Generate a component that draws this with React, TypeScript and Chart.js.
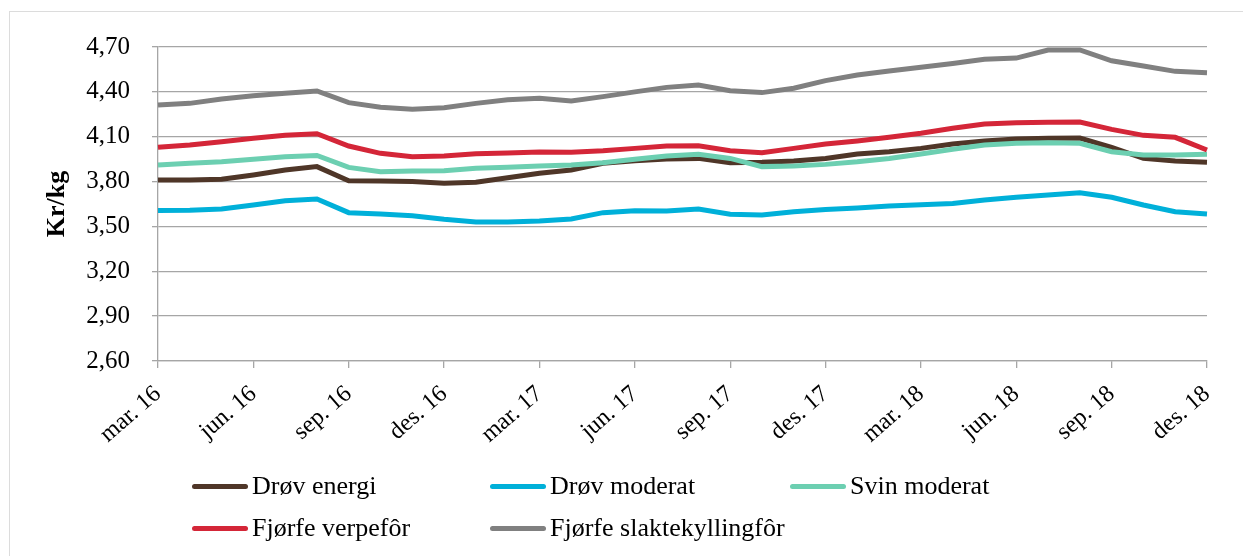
import React, { useEffect, useRef } from "react";
import { Chart, registerables } from "chart.js";

Chart.register(...registerables);

const months: string[] = [
  "mar. 16", "apr. 16", "mai. 16", "jun. 16", "jul. 16", "aug. 16", "sep. 16", "okt. 16", "nov. 16", "des. 16",
  "jan. 17", "feb. 17", "mar. 17", "apr. 17", "mai. 17", "jun. 17", "jul. 17", "aug. 17", "sep. 17", "okt. 17", "nov. 17", "des. 17",
  "jan. 18", "feb. 18", "mar. 18", "apr. 18", "mai. 18", "jun. 18", "jul. 18", "aug. 18", "sep. 18", "okt. 18", "nov. 18", "des. 18",
];

const drovEnergi: number[] = [3.81, 3.81, 3.815, 3.844, 3.877, 3.9, 3.806, 3.804, 3.8, 3.788, 3.795, 3.825, 3.855, 3.877, 3.922, 3.94, 3.951, 3.955, 3.926, 3.929, 3.937, 3.955, 3.984, 4.0, 4.022, 4.051, 4.071, 4.084, 4.089, 4.091, 4.029, 3.955, 3.937, 3.929];
const drovModerat: number[] = [3.607, 3.609, 3.616, 3.643, 3.672, 3.683, 3.592, 3.583, 3.572, 3.548, 3.53, 3.53, 3.536, 3.55, 3.592, 3.605, 3.603, 3.616, 3.581, 3.576, 3.598, 3.614, 3.623, 3.636, 3.645, 3.654, 3.677, 3.695, 3.71, 3.725, 3.695, 3.643, 3.598, 3.583];
const svinModerat: number[] = [3.911, 3.922, 3.933, 3.949, 3.966, 3.975, 3.895, 3.866, 3.87, 3.873, 3.889, 3.895, 3.904, 3.911, 3.926, 3.949, 3.971, 3.982, 3.955, 3.9, 3.904, 3.915, 3.932, 3.955, 3.984, 4.016, 4.044, 4.056, 4.06, 4.056, 4.0, 3.978, 3.978, 3.982];
const fjorfeVerpefor: number[] = [4.029, 4.044, 4.067, 4.089, 4.109, 4.12, 4.038, 3.989, 3.966, 3.971, 3.986, 3.991, 3.998, 3.996, 4.006, 4.022, 4.038, 4.04, 4.006, 3.993, 4.022, 4.051, 4.072, 4.096, 4.123, 4.156, 4.185, 4.194, 4.196, 4.198, 4.149, 4.109, 4.096, 4.011];
const fjorfeSlakte: number[] = [4.312, 4.323, 4.352, 4.374, 4.39, 4.406, 4.328, 4.297, 4.283, 4.294, 4.323, 4.347, 4.357, 4.339, 4.368, 4.4, 4.43, 4.446, 4.408, 4.395, 4.424, 4.475, 4.513, 4.54, 4.564, 4.59, 4.618, 4.626, 4.68, 4.68, 4.608, 4.573, 4.537, 4.528];

const seriesNames: string[] = ["Drøv energi", "Drøv moderat", "Svin moderat", "Fjørfe verpefôr", "Fjørfe slaktekyllingfôr"];
const seriesColors: string[] = ["#4f3628", "#00b0d9", "#6ccfb1", "#d42638", "#808080"];
const seriesData: number[][] = [drovEnergi, drovModerat, svinModerat, fjorfeVerpefor, fjorfeSlakte];

const yMin = 2.6;
const yMax = 4.7;
const yStep = 0.3;
const yTitle = "Kr/kg";

const legendPos = [
  { x: 192, y: 486 },
  { x: 490, y: 486 },
  { x: 790, y: 486 },
  { x: 192, y: 528 },
  { x: 490, y: 528 },
];

export default function App() {
  const ref = useRef<HTMLCanvasElement | null>(null);

  useEffect(() => {
    if (!ref.current) return;
    const gridColor = "#a6a6a6";
    const chart = new Chart(ref.current, {
      type: "line",
      data: {
        labels: months,
        datasets: seriesData.map((d, i) => ({
          label: seriesNames[i],
          data: d,
          borderColor: seriesColors[i],
          backgroundColor: seriesColors[i],
          borderWidth: 5,
          pointRadius: 0,
          tension: 0,
          fill: false,
          order: -i,
        })),
      },
      options: {
        animation: false,
        responsive: false,
        maintainAspectRatio: false,
        layout: { padding: { left: 0, top: 47, right: 36, bottom: 0 } },
        plugins: { legend: { display: false }, tooltip: { enabled: false } },
        scales: {
          x: {
            type: "category",
            offset: false,
            border: { display: true, color: gridColor, width: 1.3 },
            grid: {
              drawOnChartArea: false,
              drawTicks: true,
              tickLength: 7,
              lineWidth: 1.3,
              color: (ctx: any) => (ctx.index % 3 === 0 ? gridColor : "rgba(0,0,0,0)"),
            },
            ticks: {
              autoSkip: false,
              minRotation: 41,
              maxRotation: 41,
              padding: 12,
              color: "#000",
              font: { family: "'Liberation Serif', serif", size: 24 },
              callback: (_v: any, i: number) => (i % 3 === 0 ? months[i] : ""),
            },
            afterFit: (s: any) => {
              s.height = 195;
            },
          },
          y: {
            min: yMin,
            max: yMax,
            border: { display: true, color: gridColor, width: 1.3 },
            grid: { color: gridColor, lineWidth: 1.3, tickLength: 6 },
            ticks: {
              stepSize: yStep,
              padding: 22,
              color: "#000",
              font: { family: "'Liberation Serif', serif", size: 25 },
              callback: (v: any) => Number(v).toFixed(2).replace(".", ","),
            },
            title: {
              display: true,
              text: yTitle,
              color: "#000",
              font: { family: "'Liberation Serif', serif", size: 26, weight: "bold" },
              padding: { top: 42, bottom: 0 },
            },
            afterFit: (s: any) => {
              s.width = 158;
            },
          },
        },
      },
    });
    return () => chart.destroy();
  }, []);

  return (
    <div style={{ position: "absolute", left: 0, top: 0, width: 1243, height: 556, overflow: "hidden", background: "#fff" }}>
      <div
        style={{
          position: "absolute",
          left: 9,
          top: 11,
          width: 1400,
          height: 700,
          borderLeft: "1px solid #dcdcdc",
          borderTop: "1px solid #dcdcdc",
        }}
      />
      <canvas ref={ref} width={1243} height={556} style={{ position: "absolute", left: 0, top: 0 }} />
      {seriesNames.map((name, i) => (
        <div
          key={name}
          style={{
            position: "absolute",
            left: legendPos[i].x,
            top: legendPos[i].y - 15,
            height: 30,
            display: "flex",
            alignItems: "center",
            whiteSpace: "nowrap",
            fontFamily: "'Liberation Serif', serif",
            fontSize: 26,
            lineHeight: "30px",
            color: "#000",
          }}
        >
          <span
            style={{
              display: "inline-block",
              width: 56,
              height: 5,
              borderRadius: 3,
              background: seriesColors[i],
              marginRight: 4,
            }}
          />
          <span>{name}</span>
        </div>
      ))}
    </div>
  );
}
